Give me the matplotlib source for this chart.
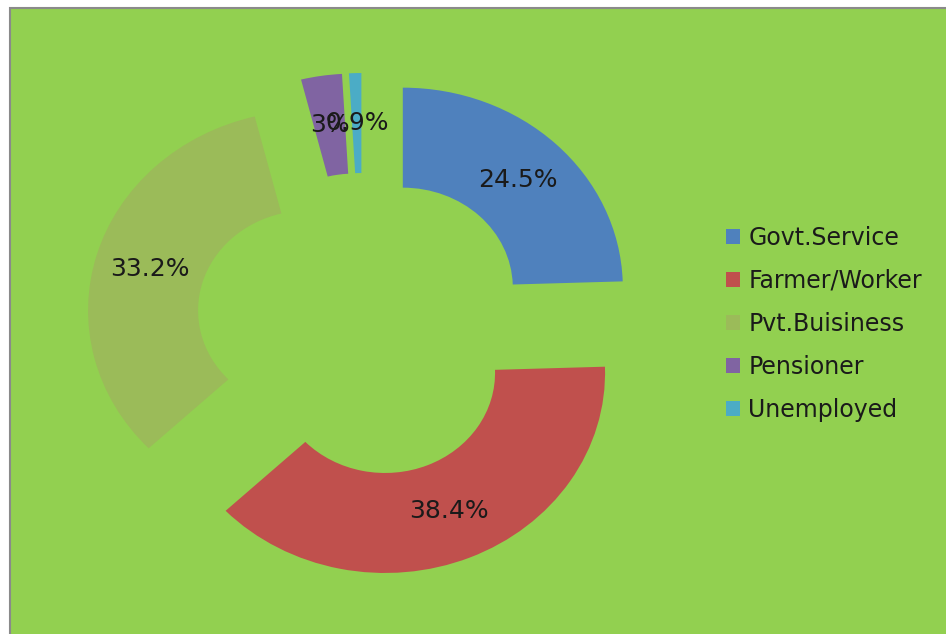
import matplotlib.pyplot as plt
from matplotlib.patches import Rectangle

# occupation share of respondents (percent)
categories = ['Govt.Service', 'Farmer/Worker', 'Pvt.Buisiness', 'Pensioner', 'Unemployed']
shares = [24.5, 38.4, 33.2, 3, 0.9]
share_labels = ['24.5%', '38.4%', '33.2%', '3%', '0.9%']
colors = ['#4F81BD', '#C0504D', '#9BBB59', '#8064A2', '#4BACC6']

W, H = 946, 634
fig = plt.figure(figsize=(W / 100, H / 100), dpi=100)
fig.patch.set_facecolor('white')

# green chart area with a grey edge on the left and top
fig.patches.append(Rectangle((10 / W, -0.01), 1.0, (H - 8) / H + 0.01,
                             transform=fig.transFigure, facecolor='#92D050',
                             edgecolor='#8a8a8a', linewidth=1.5, zorder=-5))

# axes sized so the ring is centred near (363, 325) px, slightly wider than tall
ax = fig.add_axes([11 / W, 9 / H, 704 / W, 600 / H])
ax.patch.set_alpha(0)
ax.set_zorder(2)

wedges, texts, autotexts = ax.pie(
    shares, colors=colors, startangle=90, counterclock=False,
    explode=[0.26] * len(shares), radius=1.0,
    wedgeprops=dict(width=0.5, edgecolor='none'),
    autopct='%1.1f%%', pctdistance=0.75,
    textprops=dict(fontsize=18, color='#1a1a1a'))

for t, s in zip(autotexts, share_labels):
    t.set_text(s)

ax.set_aspect('auto')
ax.set_xlim(-1.6, 1.6)
ax.set_ylim(-1.5, 1.5)
ax.axis('off')

leg = fig.legend(wedges, categories, loc='center left',
                 bbox_to_anchor=(726 / W, (H - 324) / H),
                 frameon=False, fontsize=17, borderpad=0, borderaxespad=0,
                 handlelength=0.6, handleheight=0.6, handletextpad=0.35,
                 labelspacing=0.81, labelcolor='#1a1a1a')
leg.set_zorder(3)

fig.savefig('out.png', dpi=100)
